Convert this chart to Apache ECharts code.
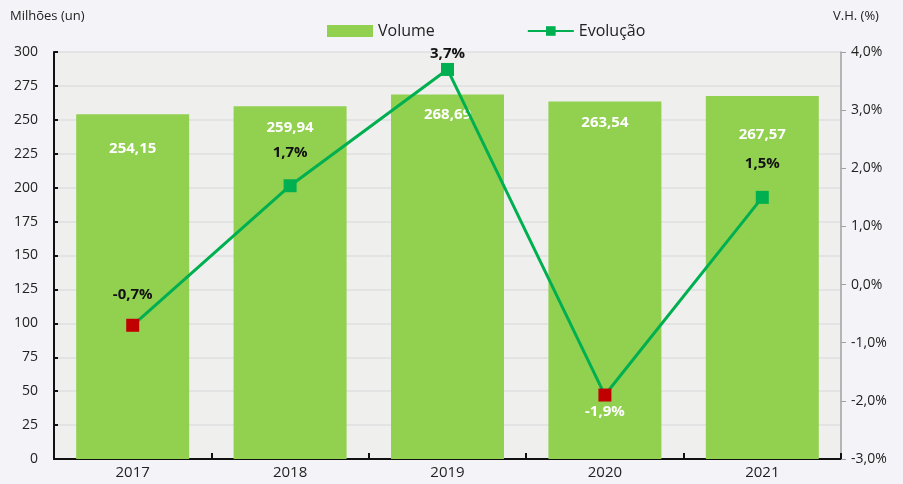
<!DOCTYPE html>
<html>
<head>
<meta charset="utf-8">
<script src="https://cdn.jsdelivr.net/npm/echarts@6/dist/echarts.min.js"></script>
<style>
  html, body { margin: 0; padding: 0; background: #f4f3f8; }
  #chart { width: 903px; height: 484px; }
</style>
</head>
<body>
<div id="chart"></div>
<script>
const years = ["2017", "2018", "2019", "2020", "2021"];
const volume = [254.15, 259.94, 268.69, 263.54, 267.57];
const evolucao = [-0.7, 1.7, 3.7, -1.9, 1.5];

// label offsets
const volLabelDist = [27, 14, 13, 14, 31];
const evoLabelDist = [17, 19, 2, 3, 20];

const fmt = (v, d) => v.toFixed(d).replace(".", ",");
const font = "Open Sans";

const chart = echarts.init(document.getElementById("chart"));

chart.setOption({
  backgroundColor: "#f4f3f8",
  textStyle: { fontFamily: font },
  animation: false,
  graphic: [
    { type: "text", left: 10, top: 10, style: { text: "Milhões (un)", font: "13px " + font, fill: "#222" } },
    { type: "text", left: 833, top: 10, style: { text: "V.H. (%)", font: "13px " + font, fill: "#222" } },
  ],
  legend: {
    left: 322,
    top: 18,
    itemGap: 92,
    itemWidth: 46,
    itemHeight: 12,
    textStyle: { fontSize: 16, color: "#222", fontFamily: font },
    data: [
      { name: "Volume", icon: "rect" },
      { name: "Evolução" },
    ],
  },
  grid: {
    left: 54,
    right: 62,
    top: 52,
    bottom: 25,
    show: true,
    backgroundColor: "#eff0ee",
    borderWidth: 0,
  },
  xAxis: {
    type: "category",
    data: years,
    axisLine: { lineStyle: { color: "#111", width: 2 } },
    axisTick: { show: true, inside: true, length: 6, lineStyle: { color: "#111", width: 2 } },
    axisLabel: { fontSize: 15, color: "#222", margin: 6 },
  },
  yAxis: [
    {
      type: "value",
      min: 0,
      max: 300,
      interval: 25,
      axisLine: { show: true, lineStyle: { color: "#111", width: 2 } },
      axisTick: { show: true, inside: true, length: 4, lineStyle: { color: "#111", width: 2 } },
      axisLabel: { fontSize: 14, color: "#222", margin: 16 },
      splitLine: { lineStyle: { color: "#dfdfdf", width: 1.5 } },
    },
    {
      type: "value",
      min: -3,
      max: 4,
      interval: 1,
      position: "right",
      axisLine: { show: true, lineStyle: { color: "#a0a0a0", width: 1.5 } },
      axisTick: { show: true, length: 5, lineStyle: { color: "#a0a0a0" } },
      axisLabel: { fontSize: 14, color: "#222", margin: 10, formatter: (v) => fmt(v, 1) + "%" },
      splitLine: { show: false },
    },
  ],
  series: [
    {
      name: "Volume",
      type: "bar",
      barWidth: 113,
      itemStyle: { color: "#92d050" },
      data: volume.map((v, i) => ({
        value: v,
        label: { distance: volLabelDist[i] },
      })),
      label: {
        show: true,
        position: "insideTop",
        color: "#fff",
        fontWeight: "bold",
        fontSize: 15,
        formatter: (p) => fmt(p.value, 2),
      },
      z: 2,
    },
    {
      name: "Evolução",
      type: "line",
      yAxisIndex: 1,
      symbol: "rect",
      symbolSize: 13,
      lineStyle: { color: "#00b050", width: 3 },
      itemStyle: { color: "#00b050" },
      data: evolucao.map((v, i) => ({
        value: v,
        itemStyle: { color: v < 0 ? "#c00000" : "#00b050" },
        label: {
          position: i === 3 ? "bottom" : "top",
          distance: evoLabelDist[i],
          color: i === 3 ? "#fff" : "#111",
        },
      })),
      label: {
        show: true,
        fontWeight: "bold",
        fontSize: 15,
        formatter: (p) => fmt(p.value, 1) + "%",
      },
      z: 3,
    },
  ],
});
</script>
</body>
</html>
